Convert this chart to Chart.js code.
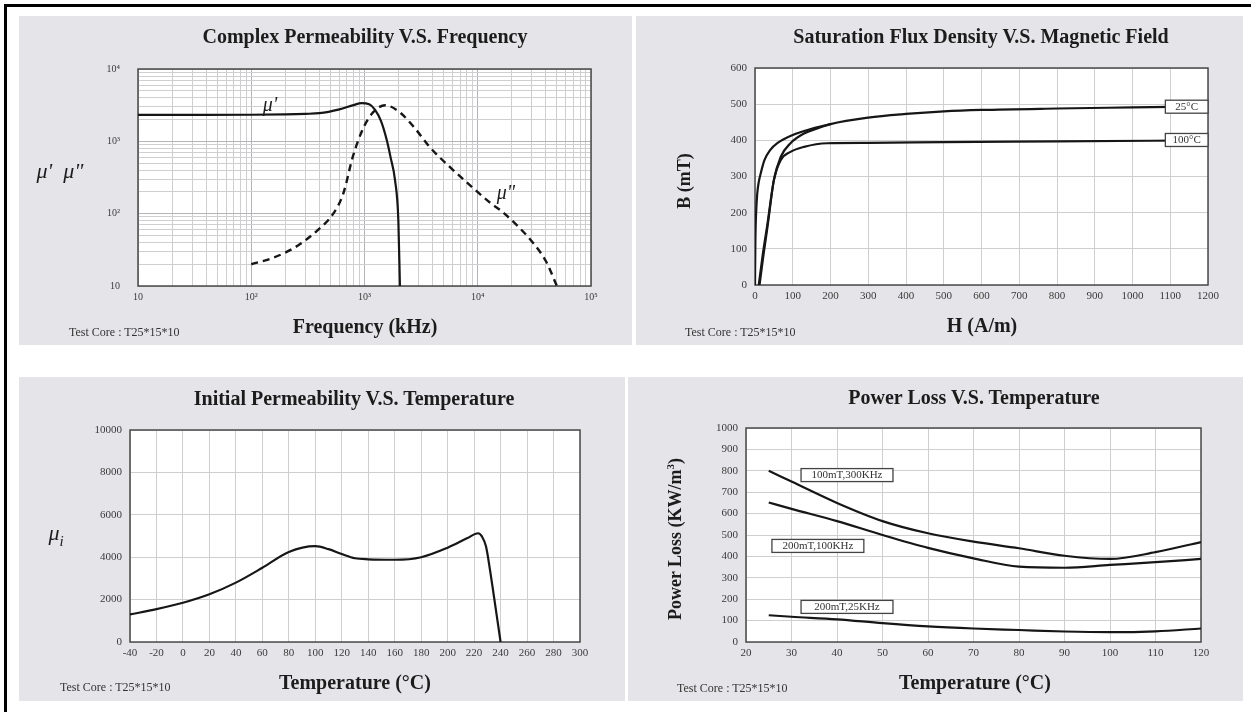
<!DOCTYPE html>
<html>
<head>
<meta charset="utf-8">
<title>Ferrite core characteristics</title>
<script src="https://cdn.jsdelivr.net/npm/chart.js@4.4.1/dist/chart.umd.min.js"></script>
<style>
  body { margin: 0; width: 1251px; height: 712px; background: #fff; position: relative; overflow: hidden;
         font-family: "Liberation Serif", "Times New Roman", serif; color: #1c1c1c; }
  .edge { position: absolute; background: #000; }
  .panel { position: absolute; background: #e5e5e9; }
  .panel canvas { position: absolute; left: 0; top: 0; }
  .t { position: absolute; transform: translate(-50%, -50%); white-space: nowrap; }
  .title { font-weight: bold; font-size: 20px; }
  .axis { font-weight: bold; font-size: 20px; }
  .rot { font-weight: bold; font-size: 18px; transform: translate(-50%, -50%) rotate(-90deg); }
  .greek { font-style: italic; font-size: 22px; }
  .note { position: absolute; transform: translateY(-50%); font-size: 12px; color: #333; white-space: nowrap; }
</style>
</head>
<body>
<div class="edge" style="left:4px;top:4px;width:1247px;height:3px"></div>
<div class="edge" style="left:4px;top:4px;width:3px;height:708px"></div>

<div class="panel" style="left:19px;top:16px;width:613px;height:329px"><canvas id="permChart" width="613" height="329"></canvas></div>
<div class="panel" style="left:636px;top:16px;width:607px;height:329px"><canvas id="bhChart" width="607" height="329"></canvas></div>
<div class="panel" style="left:19px;top:377px;width:606px;height:324px"><canvas id="muTempChart" width="606" height="324"></canvas></div>
<div class="panel" style="left:628px;top:377px;width:615px;height:324px"><canvas id="lossChart" width="615" height="324"></canvas></div>

<div class="t title" style="left:365px;top:36px">Complex Permeability V.S. Frequency</div>
<div class="t title" style="left:981px;top:36px">Saturation Flux Density V.S. Magnetic Field</div>
<div class="t title" style="left:354px;top:398px">Initial Permeability V.S. Temperature</div>
<div class="t title" style="left:974px;top:397px">Power Loss V.S. Temperature</div>

<div class="t axis" style="left:365px;top:326px">Frequency (kHz)</div>
<div class="t axis" style="left:982px;top:325px">H (A/m)</div>
<div class="t axis" style="left:355px;top:682px">Temperature (°C)</div>
<div class="t axis" style="left:975px;top:682px">Temperature (°C)</div>

<div class="t rot" style="left:684px;top:181px">B (mT)</div>
<div class="t rot" style="left:675px;top:539px">Power Loss (KW/m<sup style="font-size:11px">3</sup>)</div>

<div class="t greek" style="left:60px;top:171px">μ'&nbsp; μ"</div>
<div class="t greek" style="left:56px;top:535px">μ<sub style="font-size:15px">i</sub></div>
<div class="t greek" style="left:270px;top:104px;font-size:20px">μ'</div>
<div class="t greek" style="left:506px;top:192px;font-size:20px">μ"</div>

<div class="note" style="left:69px;top:332px">Test Core : T25*15*10</div>
<div class="note" style="left:685px;top:332px">Test Core : T25*15*10</div>
<div class="note" style="left:60px;top:687px">Test Core : T25*15*10</div>
<div class="note" style="left:677px;top:688px">Test Core : T25*15*10</div>

<script>
// Complex permeability vs frequency (kHz)
const freqMuReal = [10, 30, 100, 200, 300, 400, 600, 800, 940, 1100, 1240, 1400, 1570, 1700, 1860, 1990, 2055];
const muReal = [2320, 2320, 2330, 2360, 2400, 2450, 2770, 3170, 3370, 3250, 2720, 1900, 1050, 600, 290, 81, 10];
const freqMuImag = [100, 150, 200, 270, 380, 530, 650, 790, 980, 1200, 1520, 2060, 2800, 3800, 5600, 9000, 13000, 16000, 22000, 31000, 40000, 50000];
const muImag = [20, 24, 29, 38, 58, 100, 190, 620, 1550, 2550, 3150, 2500, 1500, 820, 450, 230, 140, 110, 70, 39, 22, 10];
const decadeValues = [10, 100, 1000, 10000, 100000];
const decadeLabels = ["10", "10²", "10³", "10⁴", "10⁵"];

// B-H curves (A/m, mT)
const hInit25 = [0, 1, 3, 6, 10, 15, 25, 40, 60, 100, 150, 200];
const bInit25 = [0, 120, 200, 253, 285, 308, 345, 373, 393, 415, 432, 445];
const hMain25 = [10, 20, 33, 50, 68, 94, 130, 165, 200, 300, 400, 500, 600, 800, 1000, 1200];
const bMain25 = [0, 80, 169, 290, 354, 392, 419, 433, 445, 463, 473, 480, 484, 488, 491, 494];
const hMain100 = [12, 22, 33, 50, 68, 94, 130, 191, 300, 500, 800, 1200];
const bMain100 = [0, 80, 160, 290, 345, 368, 382, 392, 393, 395, 397, 400];

// Initial permeability vs temperature (°C)
const tempMu = [-40, -20, 0, 20, 40, 60, 80, 100, 110, 120, 130, 140, 160, 180, 200, 215, 223, 226, 229, 232, 235, 240];
const muInitial = [1300, 1550, 1850, 2250, 2800, 3500, 4250, 4520, 4380, 4150, 3950, 3900, 3880, 4000, 4450, 4900, 5130, 4970, 4500, 3400, 2140, 0];

// Power loss vs temperature (°C, kW/m3)
const tempLoss = [25, 30, 40, 50, 60, 70, 80, 90, 100, 110, 120];
const loss100mT300k = [800, 750, 650, 565, 508, 469, 438, 403, 388, 420, 467];
const loss200mT100k = [652, 622, 565, 500, 440, 391, 352, 347, 360, 373, 388];
const loss200mT25k = [125, 118, 106, 88, 73, 63, 56, 49, 46, 50, 63];

const LINE = "#161616";
const GRID = "#cfcfd2";
const TICK_FONT = { family: "Liberation Serif", size: 11 };

function points(xs, ys) {
  return xs.map((x, i) => ({ x, y: ys[i] }));
}

function curve(xs, ys, extra) {
  return Object.assign({
    data: points(xs, ys),
    showLine: true,
    borderColor: LINE,
    borderWidth: 2.2,
    pointRadius: 0,
    cubicInterpolationMode: "monotone",
  }, extra || {});
}

function logTicks(min, max) {
  const out = [];
  for (let d = min; d < max; d *= 10) {
    for (let k = 1; k < 10; k++) out.push(d * k);
  }
  out.push(max);
  return out;
}

const framePlugin = {
  id: "frame",
  beforeDraw(chart) {
    const { ctx, chartArea: a } = chart;
    ctx.save();
    ctx.fillStyle = "#fff";
    ctx.fillRect(a.left, a.top, a.right - a.left, a.bottom - a.top);
    ctx.restore();
  },
  beforeDatasetsDraw(chart) {
    const { ctx, chartArea: a } = chart;
    ctx.save();
    ctx.strokeStyle = "#4a4a4a";
    ctx.lineWidth = 1.5;
    ctx.strokeRect(a.left, a.top, a.right - a.left, a.bottom - a.top);
    ctx.restore();
  },
};

const tagPlugin = {
  id: "tags",
  afterDatasetsDraw(chart, args, opts) {
    const { ctx } = chart;
    const x = chart.scales.x;
    const y = chart.scales.y;
    (opts.items || []).forEach((t) => {
      const left = x.getPixelForValue(t.from);
      const right = x.getPixelForValue(t.to);
      const mid = y.getPixelForValue(t.at);
      const h = 13;
      ctx.save();
      ctx.fillStyle = "#fff";
      ctx.fillRect(left, mid - h / 2, right - left, h);
      ctx.strokeStyle = "#444";
      ctx.lineWidth = 1.3;
      ctx.strokeRect(left, mid - h / 2, right - left, h);
      ctx.fillStyle = "#333";
      ctx.font = "11px 'Liberation Serif'";
      ctx.textAlign = "center";
      ctx.textBaseline = "middle";
      ctx.fillText(t.text, (left + right) / 2, mid + 0.5);
      ctx.restore();
    });
  },
};

function chartOptions(cfg) {
  return {
    responsive: false,
    animation: false,
    devicePixelRatio: 1,
    layout: { padding: cfg.padding },
    plugins: { legend: { display: false }, tooltip: { enabled: false }, tags: { items: cfg.tags || [] } },
    scales: {
      x: Object.assign({
        border: { display: false },
        grid: { color: GRID, lineWidth: 1, drawTicks: false },
        afterFit(scale) { scale.height = 20; },
      }, cfg.x),
      y: Object.assign({
        border: { display: false },
        grid: { color: GRID, lineWidth: 1, drawTicks: false },
        afterFit(scale) { scale.width = cfg.yWidth; },
      }, cfg.y),
    },
  };
}

function logAxis(min, max, padding) {
  return {
    type: "logarithmic",
    min,
    max,
    afterBuildTicks(scale) {
      scale.ticks = logTicks(min, max).map((v) => ({ value: v }));
    },
    grid: {
      drawTicks: false,
      lineWidth: 1,
      color: (c) => (c.tick && decadeValues.includes(c.tick.value) ? "#b4b4b8" : GRID),
    },
    ticks: {
      font: { family: "Liberation Serif", size: 10 },
      color: "#3a3a3a",
      padding,
      maxRotation: 0,
      autoSkip: false,
      callback(value) {
        const i = decadeValues.indexOf(value);
        return i >= 0 ? decadeLabels[i] : "";
      },
    },
  };
}

function linearAxis(min, max, step, padding) {
  return {
    type: "linear",
    min,
    max,
    grid: { color: GRID, lineWidth: 1, drawTicks: false },
    ticks: {
      stepSize: step,
      font: TICK_FONT,
      color: "#3a3a3a",
      padding,
      maxRotation: 0,
      autoSkip: false,
      callback: (value) => String(value),
    },
  };
}

function renderPermeability() {
  new Chart(document.getElementById("permChart"), {
    type: "scatter",
    data: {
      datasets: [
        curve(freqMuReal, muReal),
        curve(freqMuImag, muImag, { borderDash: [7, 5], borderWidth: 2.4 }),
      ],
    },
    options: chartOptions({
      padding: { left: 0, right: 41, top: 53, bottom: 39 },
      yWidth: 119,
      x: logAxis(10, 100000, 5),
      y: logAxis(10, 10000, 18),
    }),
    plugins: [framePlugin],
  });
}

function renderBH() {
  new Chart(document.getElementById("bhChart"), {
    type: "scatter",
    data: {
      datasets: [
        curve(hInit25, bInit25),
        curve(hMain25, bMain25),
        curve(hMain100, bMain100),
      ],
    },
    options: chartOptions({
      padding: { left: 0, right: 35, top: 52, bottom: 40 },
      yWidth: 119,
      x: linearAxis(0, 1200, 100, 5),
      y: linearAxis(0, 600, 100, 8),
      tags: [
        { text: "25°C", from: 1087, to: 1200, at: 493 },
        { text: "100°C", from: 1087, to: 1200, at: 401 },
      ],
    }),
    plugins: [framePlugin, tagPlugin],
  });
}

function renderInitialPermeability() {
  new Chart(document.getElementById("muTempChart"), {
    type: "scatter",
    data: { datasets: [curve(tempMu, muInitial)] },
    options: chartOptions({
      padding: { left: 0, right: 45, top: 53, bottom: 39 },
      yWidth: 111,
      x: linearAxis(-40, 300, 20, 5),
      y: linearAxis(0, 10000, 2000, 8),
    }),
    plugins: [framePlugin],
  });
}

function renderPowerLoss() {
  new Chart(document.getElementById("lossChart"), {
    type: "scatter",
    data: {
      datasets: [
        curve(tempLoss, loss100mT300k),
        curve(tempLoss, loss200mT100k),
        curve(tempLoss, loss200mT25k),
      ],
    },
    options: chartOptions({
      padding: { left: 0, right: 42, top: 51, bottom: 39 },
      yWidth: 118,
      x: linearAxis(20, 120, 10, 5),
      y: linearAxis(0, 1000, 100, 8),
      tags: [
        { text: "100mT,300KHz", from: 32.1, to: 52.3, at: 780 },
        { text: "200mT,100KHz", from: 25.7, to: 45.9, at: 449 },
        { text: "200mT,25KHz", from: 32.1, to: 52.3, at: 164 },
      ],
    }),
    plugins: [framePlugin, tagPlugin],
  });
}

renderPermeability();
renderBH();
renderInitialPermeability();
renderPowerLoss();
</script>
</body>
</html>
